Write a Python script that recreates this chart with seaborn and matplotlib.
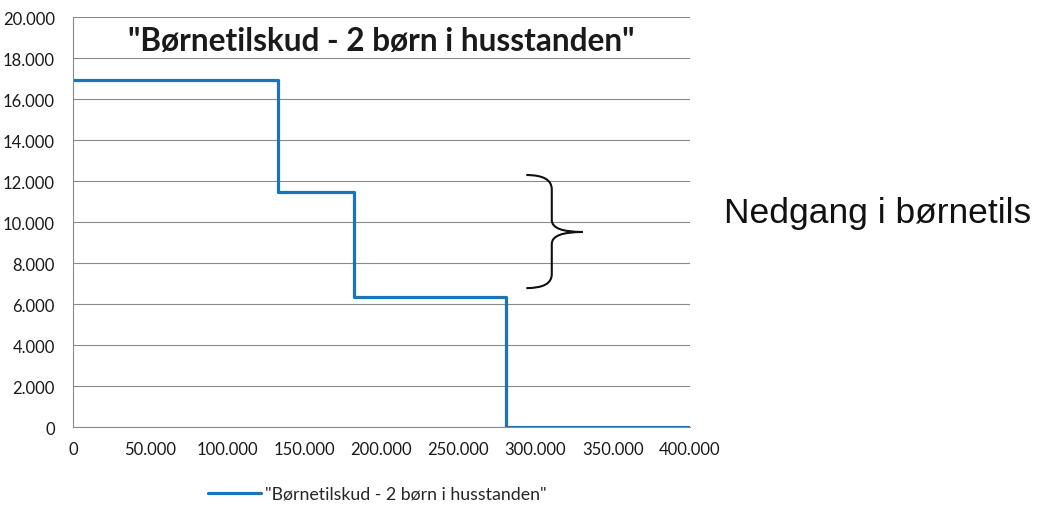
import matplotlib
matplotlib.use("Agg")
import matplotlib.pyplot as plt
import seaborn as sns
import pandas as pd
from matplotlib.ticker import FuncFormatter, MultipleLocator
from matplotlib.path import Path
from matplotlib.patches import PathPatch

# Data
income = [0, 133000, 182000, 281000, 400000]
subsidy = [16950, 11450, 6330, 0, 0]
series_name = '"Børnetilskud - 2 børn i husstanden"'
title_text = '"Børnetilskud - 2 børn i husstanden"'
note_text = "Nedgang i børnetils"

sns.set_style("white")
plt.rcParams['font.family'] = ['Lato', 'DejaVu Sans']

df = pd.DataFrame({"income": income, "subsidy": subsidy, "series": series_name})

fig = plt.figure(figsize=(10.42, 5.06), dpi=100)
ax = fig.add_axes([0.070, 0.154, 0.592, 0.810])

sns.lineplot(data=df, x="income", y="subsidy", hue="series", palette=["#1c74b8"],
             drawstyle="steps-post", linewidth=2.3, ax=ax, legend=True)

ax.set_xlim(0, 400000)
ax.set_ylim(0, 20000)
ax.xaxis.set_major_locator(MultipleLocator(50000))
ax.yaxis.set_major_locator(MultipleLocator(2000))
fmt = FuncFormatter(lambda v, p: f"{int(round(v)):,}".replace(",", "."))
ax.xaxis.set_major_formatter(fmt)
ax.yaxis.set_major_formatter(fmt)
ax.set_xlabel("")
ax.set_ylabel("")
ax.grid(axis="y", color="#8a8a8a", linewidth=0.8)
ax.grid(axis="x", visible=False)
for s in ["top", "right"]:
    ax.spines[s].set_visible(False)
for s in ["left", "bottom"]:
    ax.spines[s].set_color("#8a8a8a")
    ax.spines[s].set_linewidth(0.8)
ax.tick_params(axis="x", direction="out", length=4, color="#8a8a8a", labelsize=12, pad=6,
               labelcolor="#1a1a1a")
ax.tick_params(axis="y", length=0, labelsize=12, pad=13, labelcolor="#1a1a1a")
ax.set_axisbelow(True)

ax.text(0.50, 0.942, title_text, transform=ax.transAxes, ha="center", va="center",
        fontsize=22.7, fontweight="bold", color="#1a1a1a")

# brace annotation
brace = Path([(294000, 12300), (310500, 12300), (310500, 11600),
              (310500, 10100),
              (310500, 9520), (330500, 9520),
              (310500, 9520), (310500, 8940),
              (310500, 7460),
              (310500, 6780), (294000, 6780)],
             [Path.MOVETO, Path.CURVE3, Path.CURVE3,
              Path.LINETO,
              Path.CURVE3, Path.CURVE3,
              Path.CURVE3, Path.CURVE3,
              Path.LINETO,
              Path.CURVE3, Path.CURVE3])
ax.add_patch(PathPatch(brace, facecolor="none", edgecolor="#111111", linewidth=1.5,
                       clip_on=False))

fig.text(0.695, 0.578, note_text, ha="left", va="center", fontsize=25.5,
         family=["Liberation Sans", "DejaVu Sans"], color="#111111")

handles, labels = ax.get_legend_handles_labels()
ax.legend(handles, labels, loc="center", bbox_to_anchor=(0.362, 0.022),
          bbox_transform=fig.transFigure, frameon=False, fontsize=12.8,
          handlelength=3.0, handletextpad=0.2, borderpad=0.1)

fig.savefig("out.png", dpi=100)
